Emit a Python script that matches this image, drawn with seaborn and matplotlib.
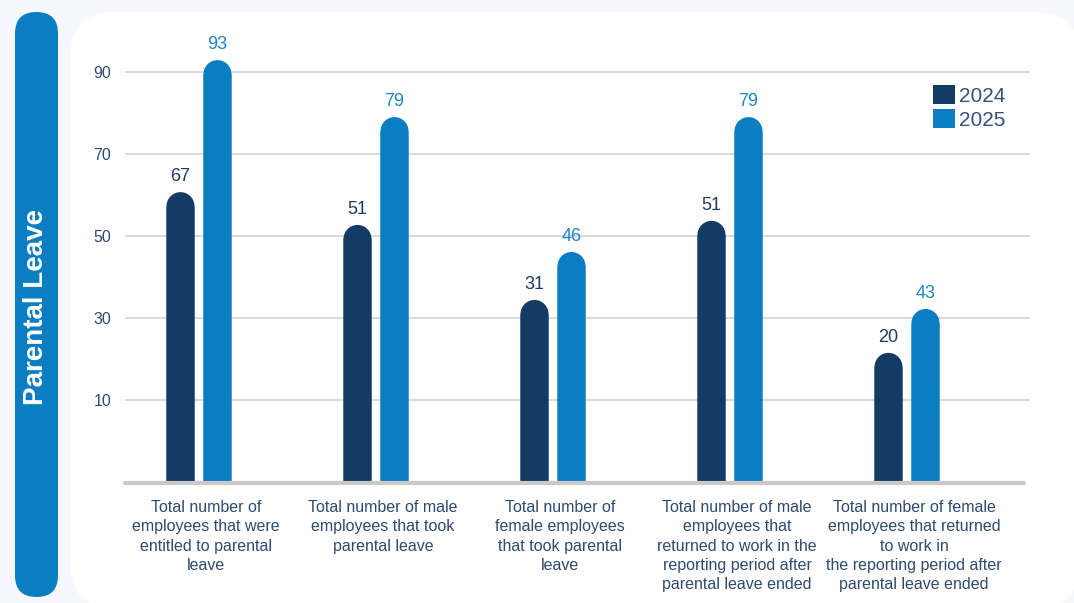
import matplotlib
matplotlib.use("Agg")
import matplotlib.pyplot as plt
import matplotlib.transforms as mtransforms
from matplotlib.patches import FancyBboxPatch, PathPatch, Patch
from matplotlib.path import Path
import seaborn as sns
import pandas as pd

# ---------------- data ----------------
categories = [
    "Total number of\nemployees that were\nentitled to parental\nleave",
    "Total number of male\nemployees that took\nparental leave",
    "Total number of\nfemale employees\nthat took parental\nleave",
    "Total number of male\nemployees that\nreturned to work in the\nreporting period after\nparental leave ended",
    "Total number of female\nemployees that returned\nto work in\nthe reporting period after\nparental leave ended",
]
years = ["2024", "2025"]
# printed value labels
labels_2024 = [67, 51, 31, 51, 20]
labels_2025 = [93, 79, 46, 79, 43]
# bar tops as drawn on the picture's axis
bars_2024 = [60.7, 52.7, 34.4, 53.7, 21.5]
bars_2025 = [92.9, 79.0, 46.1, 79.0, 32.2]
yticks = [10, 30, 50, 70, 90]
title = "Parental Leave"

# ---------------- style ----------------
W, H = 1074, 603
BG = "#f6f8fd"
C24 = "#143b64"
C25 = "#0b7dc1"
LBL24 = "#1f3b60"
LBL25 = "#1b88c9"
TXT = "#2d4a70"

sns.set_theme(style="white")
plt.rcParams["font.family"] = ["Liberation Sans", "DejaVu Sans"]

df = pd.DataFrame({
    "category": categories * 2,
    "year": [years[0]] * len(categories) + [years[1]] * len(categories),
    "bar": bars_2024 + bars_2025,
})

fig = plt.figure(figsize=(W / 100, H / 100), dpi=100, facecolor=BG)

# background decoration in pixel coordinates
bg = fig.add_axes([0, 0, 1, 1], zorder=0)
bg.set_xlim(0, W)
bg.set_ylim(H, 0)
bg.axis("off")
bg.add_patch(FancyBboxPatch((70, 12), 1010, 596,
                            boxstyle="round,pad=0,rounding_size=45",
                            fc="white", ec="none"))
bg.add_patch(FancyBboxPatch((15, 12), 43, 585,
                            boxstyle="round,pad=0,rounding_size=21.5",
                            fc=C25, ec="none"))
bg.text(36.5, 307, title, rotation=90, ha="center", va="center",
        color="white", fontsize=20, fontweight="bold")

# main axes
ax_left, ax_right, ax_top, ax_bot = 125, 1030, 31, 482
ax = fig.add_axes([ax_left / W, 1 - ax_bot / H,
                   (ax_right - ax_left) / W, (ax_bot - ax_top) / H], zorder=1)
ax.set_facecolor("none")

sns.barplot(data=df, x="category", y="bar", hue="year", hue_order=years,
            palette=[C24, C25], width=0.418, gap=0.244, ax=ax,
            legend=False, saturation=1, linewidth=0)

ymin, ymax = -10, 100
x0 = (ax_left - 199.0) / 177.0
x1 = (ax_right - 199.0) / 177.0
ax.set_xlim(x0, x1)
ax.set_ylim(ymin, ymax)

# value labels
for cont, labs, col in zip(ax.containers, [labels_2024, labels_2025], [LBL24, LBL25]):
    ax.bar_label(cont, labels=[str(v) for v in labs], padding=5, color=col,
                 fontsize=13)

# rounded tops, bars drawn from the axis floor
px_x = (ax_right - ax_left) / (x1 - x0)
px_y = (ax_bot - ax_top) / (ymax - ymin)
K = 0.5523
for cont in ax.containers:
    for p in cont:
        xl, w, top = p.get_x(), p.get_width(), p.get_height()
        xr, xc, rx = xl + w, xl + w / 2, w / 2
        r_y = (rx * px_x) / px_y
        c = top - r_y
        p.set_y(ymin)
        p.set_height(c - ymin)
        p.set_snap(False)
        p.set_linewidth(0)
        verts = [(xl, ymin), (xl, c),
                 (xl, c + K * r_y), (xc - K * rx, top), (xc, top),
                 (xc + K * rx, top), (xr, c + K * r_y), (xr, c),
                 (xr, ymin), (xl, ymin)]
        codes = [Path.MOVETO, Path.LINETO,
                 Path.CURVE4, Path.CURVE4, Path.CURVE4,
                 Path.CURVE4, Path.CURVE4, Path.CURVE4,
                 Path.LINETO, Path.CLOSEPOLY]
        pp = PathPatch(Path(verts, codes), fc=p.get_facecolor(), ec="none", lw=0,
                       zorder=p.get_zorder(), snap=False)
        ax.add_patch(pp)

# grid
ax.set_yticks(yticks)
ax.set_yticklabels([str(t) for t in yticks])
for t in yticks:
    ax.axhline(t, color="#d4d2d2", lw=1.2, zorder=0)
ax.axhline(ymin - 0.25, xmin=0, xmax=(1024 - ax_left) / (ax_right - ax_left),
           color="#cdc7c7", lw=3.0, zorder=3, clip_on=False)

for s in ax.spines.values():
    s.set_visible(False)
ax.tick_params(axis="y", length=0, pad=10, labelsize=11.5, labelcolor=TXT)
ax.tick_params(axis="x", length=0, pad=13, labelsize=11.5, labelcolor=TXT)
ax.set_xlabel("")
ax.set_ylabel("")
offset = mtransforms.ScaledTranslation(7 / 100, 0, fig.dpi_scale_trans)
for lab in ax.get_xticklabels():
    lab.set_linespacing(1.36)
    lab.set_transform(lab.get_transform() + offset)

# legend
handles = [Patch(fc=C24, ec="none"), Patch(fc=C25, ec="none")]
leg = ax.legend(handles, years, loc="upper left",
                bbox_to_anchor=(933 / W, 1 - 85 / H), bbox_transform=fig.transFigure,
                frameon=False, fontsize=15, handlelength=1.05, handleheight=1.05,
                handletextpad=0.2, labelspacing=0.15, borderpad=0, borderaxespad=0)
for t in leg.get_texts():
    t.set_color("#33527a")

fig.savefig("out.png", dpi=100, facecolor=BG)
